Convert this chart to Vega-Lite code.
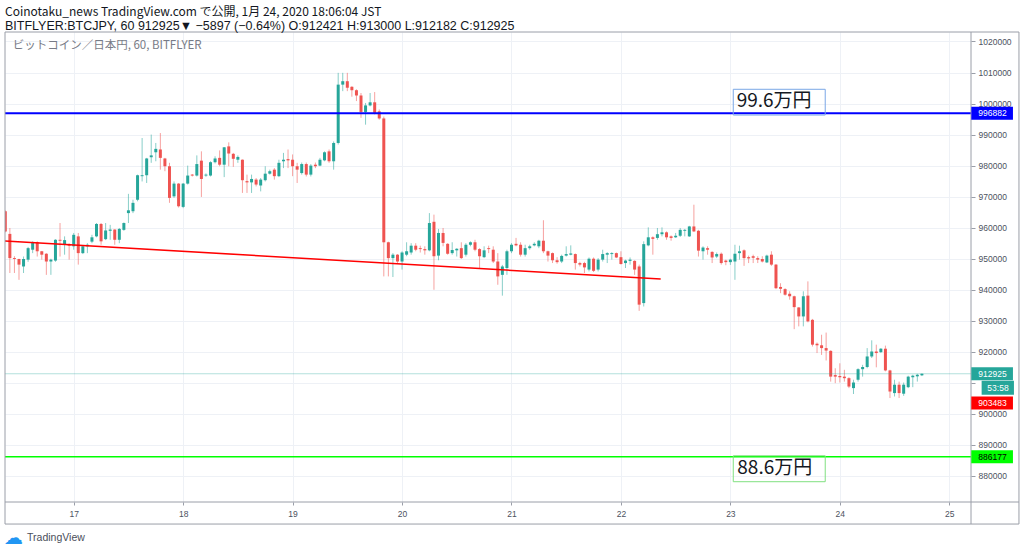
{
  "$schema": "https://vega.github.io/schema/vega-lite/v6.json",
  "width": 966,
  "height": 470,
  "autosize": {"type": "none"},
  "padding": {"left": 5, "top": 32, "right": 53, "bottom": 50},
  "background": "white",
  "title": {
    "text": "Coinotaku_news TradingView.com で公開, 1月 24, 2020 18:06:04 JST",
    "subtitle": "BITFLYER:BTCJPY, 60 912925▼ −5897 (−0.64%) O:912421 H:913000 L:912182 C:912925",
    "anchor": "start",
    "frame": "group",
    "font": "Noto Sans CJK JP",
    "fontSize": 12,
    "fontWeight": "normal",
    "color": "#131722",
    "subtitleFont": "Liberation Sans",
    "subtitleFontSize": 12.5,
    "subtitleColor": "#131722",
    "subtitlePadding": 1,
    "offset": -1.5
  },
  "config": {
    "view": {"stroke": null},
    "scale": {"continuousPadding": 0},
    "axis": {
      "labelFont": "Liberation Sans",
      "labelFontSize": 8.5,
      "labelColor": "#4c525e",
      "gridColor": "#eef1f6",
      "gridWidth": 1,
      "tickColor": "#9a9ea8",
      "domain": false,
      "labelFlush": false,
      "title": null
    }
  },
  "resolve": {"axis": {"x": "independent", "y": "independent"}},
  "datasets": {
    "candles": [
      {"t":"2020-01-16T09:00Z","o":965300,"h":965600,"l":958500,"c":958800},
      {"t":"2020-01-16T10:00Z","o":958000,"h":959900,"l":945400,"c":950200},
      {"t":"2020-01-16T11:00Z","o":950200,"h":950800,"l":945400,"c":949900},
      {"t":"2020-01-16T12:00Z","o":949900,"h":950000,"l":943200,"c":948100},
      {"t":"2020-01-16T13:00Z","o":947500,"h":950700,"l":945400,"c":949900},
      {"t":"2020-01-16T14:00Z","o":949700,"h":953800,"l":949000,"c":953400},
      {"t":"2020-01-16T15:00Z","o":952900,"h":955600,"l":951800,"c":955300},
      {"t":"2020-01-16T16:00Z","o":955300,"h":955600,"l":950700,"c":952400},
      {"t":"2020-01-16T17:00Z","o":952400,"h":952500,"l":949700,"c":951300},
      {"t":"2020-01-16T18:00Z","o":951600,"h":951800,"l":944800,"c":949100},
      {"t":"2020-01-16T19:00Z","o":949100,"h":950000,"l":944800,"c":949700},
      {"t":"2020-01-16T20:00Z","o":949400,"h":956300,"l":949000,"c":956100},
      {"t":"2020-01-16T21:00Z","o":956100,"h":961500,"l":950700,"c":955800},
      {"t":"2020-01-16T22:00Z","o":954500,"h":957200,"l":951300,"c":956000},
      {"t":"2020-01-16T23:00Z","o":954600,"h":955000,"l":949700,"c":954200},
      {"t":"2020-01-17T00:00Z","o":954000,"h":958300,"l":952900,"c":957700},
      {"t":"2020-01-17T01:00Z","o":957200,"h":958300,"l":948100,"c":951800},
      {"t":"2020-01-17T02:00Z","o":951800,"h":954300,"l":951500,"c":954000},
      {"t":"2020-01-17T03:00Z","o":954000,"h":955000,"l":951800,"c":954500},
      {"t":"2020-01-17T04:00Z","o":955500,"h":957700,"l":955000,"c":956900},
      {"t":"2020-01-17T05:00Z","o":957200,"h":961500,"l":956900,"c":961200},
      {"t":"2020-01-17T06:00Z","o":961200,"h":961500,"l":954500,"c":955600},
      {"t":"2020-01-17T07:00Z","o":956300,"h":961500,"l":956000,"c":959100},
      {"t":"2020-01-17T08:00Z","o":959000,"h":960900,"l":956100,"c":959400},
      {"t":"2020-01-17T09:00Z","o":959400,"h":959500,"l":954500,"c":956100},
      {"t":"2020-01-17T10:00Z","o":956100,"h":959900,"l":955000,"c":959600},
      {"t":"2020-01-17T11:00Z","o":959300,"h":961700,"l":959000,"c":961500},
      {"t":"2020-01-17T12:00Z","o":964700,"h":970900,"l":961500,"c":965600},
      {"t":"2020-01-17T13:00Z","o":965300,"h":969000,"l":964700,"c":968000},
      {"t":"2020-01-17T14:00Z","o":969000,"h":977100,"l":968500,"c":976900},
      {"t":"2020-01-17T15:00Z","o":976600,"h":988900,"l":974900,"c":976900},
      {"t":"2020-01-17T16:00Z","o":976900,"h":982500,"l":974400,"c":982300},
      {"t":"2020-01-17T17:00Z","o":982700,"h":990000,"l":980900,"c":983300},
      {"t":"2020-01-17T18:00Z","o":984300,"h":987300,"l":981400,"c":985400},
      {"t":"2020-01-17T19:00Z","o":985200,"h":990500,"l":978700,"c":982500},
      {"t":"2020-01-17T20:00Z","o":982300,"h":982500,"l":978200,"c":979800},
      {"t":"2020-01-17T21:00Z","o":979800,"h":980900,"l":968000,"c":969600},
      {"t":"2020-01-17T22:00Z","o":970100,"h":974900,"l":969600,"c":974200},
      {"t":"2020-01-17T23:00Z","o":974200,"h":974400,"l":966500,"c":966900},
      {"t":"2020-01-18T00:00Z","o":966700,"h":974400,"l":966300,"c":974200},
      {"t":"2020-01-18T01:00Z","o":974200,"h":980000,"l":973900,"c":976800},
      {"t":"2020-01-18T02:00Z","o":977100,"h":977300,"l":976500,"c":976800},
      {"t":"2020-01-18T03:00Z","o":976800,"h":983300,"l":976500,"c":980500},
      {"t":"2020-01-18T04:00Z","o":981600,"h":984600,"l":969900,"c":975700},
      {"t":"2020-01-18T05:00Z","o":976800,"h":977500,"l":976400,"c":977100},
      {"t":"2020-01-18T06:00Z","o":976800,"h":981400,"l":976500,"c":981100},
      {"t":"2020-01-18T07:00Z","o":981100,"h":983000,"l":980700,"c":982300},
      {"t":"2020-01-18T08:00Z","o":982500,"h":984900,"l":979800,"c":980300},
      {"t":"2020-01-18T09:00Z","o":980300,"h":986000,"l":976300,"c":985900},
      {"t":"2020-01-18T10:00Z","o":986200,"h":987500,"l":979800,"c":983900},
      {"t":"2020-01-18T11:00Z","o":983800,"h":984100,"l":979600,"c":982200},
      {"t":"2020-01-18T12:00Z","o":981900,"h":983300,"l":980900,"c":982800},
      {"t":"2020-01-18T13:00Z","o":981900,"h":982000,"l":971200,"c":975300},
      {"t":"2020-01-18T14:00Z","o":975000,"h":977100,"l":971200,"c":974600},
      {"t":"2020-01-18T15:00Z","o":974600,"h":977100,"l":971200,"c":975700},
      {"t":"2020-01-18T16:00Z","o":975500,"h":976000,"l":973300,"c":973900},
      {"t":"2020-01-18T17:00Z","o":973600,"h":976000,"l":971700,"c":975500},
      {"t":"2020-01-18T18:00Z","o":975300,"h":979800,"l":974900,"c":977400},
      {"t":"2020-01-18T19:00Z","o":977400,"h":978700,"l":977100,"c":978200},
      {"t":"2020-01-18T20:00Z","o":978700,"h":979200,"l":975500,"c":976600},
      {"t":"2020-01-18T21:00Z","o":976600,"h":981900,"l":976300,"c":980900},
      {"t":"2020-01-18T22:00Z","o":981400,"h":984100,"l":979200,"c":981900},
      {"t":"2020-01-18T23:00Z","o":982100,"h":985200,"l":979200,"c":981700},
      {"t":"2020-01-19T00:00Z","o":981900,"h":983600,"l":976600,"c":979800},
      {"t":"2020-01-19T01:00Z","o":979800,"h":980900,"l":974400,"c":978700},
      {"t":"2020-01-19T02:00Z","o":977600,"h":981000,"l":977100,"c":980500},
      {"t":"2020-01-19T03:00Z","o":980500,"h":981000,"l":976500,"c":977100},
      {"t":"2020-01-19T04:00Z","o":977100,"h":980500,"l":976500,"c":980000},
      {"t":"2020-01-19T05:00Z","o":980300,"h":981000,"l":979200,"c":979800},
      {"t":"2020-01-19T06:00Z","o":980000,"h":982500,"l":979800,"c":981900},
      {"t":"2020-01-19T07:00Z","o":981700,"h":984600,"l":981400,"c":984300},
      {"t":"2020-01-19T08:00Z","o":984600,"h":985200,"l":980900,"c":981400},
      {"t":"2020-01-19T09:00Z","o":981400,"h":987800,"l":978700,"c":987300},
      {"t":"2020-01-19T10:00Z","o":987300,"h":1009900,"l":986800,"c":1006100},
      {"t":"2020-01-19T11:00Z","o":1006100,"h":1009900,"l":1004000,"c":1007200},
      {"t":"2020-01-19T12:00Z","o":1007200,"h":1009900,"l":1004000,"c":1005100},
      {"t":"2020-01-19T13:00Z","o":1005400,"h":1005600,"l":1002200,"c":1004300},
      {"t":"2020-01-19T14:00Z","o":1004300,"h":1004600,"l":1000800,"c":1002600},
      {"t":"2020-01-19T15:00Z","o":1002600,"h":1003400,"l":995400,"c":997300},
      {"t":"2020-01-19T16:00Z","o":997300,"h":1000200,"l":993200,"c":999400},
      {"t":"2020-01-19T17:00Z","o":999400,"h":1003400,"l":999100,"c":1000400},
      {"t":"2020-01-19T18:00Z","o":1000400,"h":1003700,"l":996500,"c":997000},
      {"t":"2020-01-19T19:00Z","o":997500,"h":998100,"l":994800,"c":995200},
      {"t":"2020-01-19T20:00Z","o":995200,"h":995800,"l":944300,"c":955300},
      {"t":"2020-01-19T21:00Z","o":955300,"h":955500,"l":944300,"c":950200},
      {"t":"2020-01-19T22:00Z","o":950200,"h":951800,"l":944100,"c":951300},
      {"t":"2020-01-19T23:00Z","o":951300,"h":951500,"l":948600,"c":949100},
      {"t":"2020-01-20T00:00Z","o":949100,"h":952400,"l":946500,"c":952000},
      {"t":"2020-01-20T01:00Z","o":951300,"h":955300,"l":950800,"c":952400},
      {"t":"2020-01-20T02:00Z","o":952000,"h":955000,"l":951300,"c":954200},
      {"t":"2020-01-20T03:00Z","o":954200,"h":955000,"l":952400,"c":952900},
      {"t":"2020-01-20T04:00Z","o":953400,"h":954200,"l":952000,"c":953100},
      {"t":"2020-01-20T05:00Z","o":953100,"h":954000,"l":951300,"c":952700},
      {"t":"2020-01-20T06:00Z","o":952700,"h":964700,"l":952400,"c":961500},
      {"t":"2020-01-20T07:00Z","o":961900,"h":964200,"l":940000,"c":950800},
      {"t":"2020-01-20T08:00Z","o":951000,"h":959600,"l":949500,"c":958300},
      {"t":"2020-01-20T09:00Z","o":958300,"h":959900,"l":954000,"c":955100},
      {"t":"2020-01-20T10:00Z","o":954800,"h":955000,"l":951300,"c":951600},
      {"t":"2020-01-20T11:00Z","o":951800,"h":955300,"l":951300,"c":952800},
      {"t":"2020-01-20T12:00Z","o":952700,"h":953400,"l":950700,"c":953200},
      {"t":"2020-01-20T13:00Z","o":953400,"h":955300,"l":949900,"c":950200},
      {"t":"2020-01-20T14:00Z","o":951300,"h":955000,"l":950700,"c":954500},
      {"t":"2020-01-20T15:00Z","o":954500,"h":955600,"l":954000,"c":955300},
      {"t":"2020-01-20T16:00Z","o":955300,"h":956100,"l":952400,"c":952900},
      {"t":"2020-01-20T17:00Z","o":953100,"h":953400,"l":947000,"c":950800},
      {"t":"2020-01-20T18:00Z","o":950500,"h":954000,"l":950200,"c":952700},
      {"t":"2020-01-20T19:00Z","o":953400,"h":954200,"l":951800,"c":953100},
      {"t":"2020-01-20T20:00Z","o":952900,"h":954000,"l":948600,"c":949100},
      {"t":"2020-01-20T21:00Z","o":949100,"h":951800,"l":941600,"c":944300},
      {"t":"2020-01-20T22:00Z","o":944800,"h":948000,"l":938100,"c":947500},
      {"t":"2020-01-20T23:00Z","o":947000,"h":952900,"l":944800,"c":952400},
      {"t":"2020-01-21T00:00Z","o":952400,"h":955000,"l":951800,"c":954500},
      {"t":"2020-01-21T01:00Z","o":954800,"h":956700,"l":954000,"c":954300},
      {"t":"2020-01-21T02:00Z","o":954500,"h":955300,"l":950700,"c":951300},
      {"t":"2020-01-21T03:00Z","o":951300,"h":954500,"l":950700,"c":953400},
      {"t":"2020-01-21T04:00Z","o":953400,"h":954500,"l":952900,"c":954000},
      {"t":"2020-01-21T05:00Z","o":954300,"h":955300,"l":954000,"c":954800},
      {"t":"2020-01-21T06:00Z","o":954000,"h":956100,"l":953400,"c":955800},
      {"t":"2020-01-21T07:00Z","o":955800,"h":962400,"l":951800,"c":952400},
      {"t":"2020-01-21T08:00Z","o":952400,"h":952600,"l":949100,"c":951000},
      {"t":"2020-01-21T09:00Z","o":951800,"h":952000,"l":948600,"c":949500},
      {"t":"2020-01-21T10:00Z","o":949500,"h":950500,"l":948400,"c":948900},
      {"t":"2020-01-21T11:00Z","o":949100,"h":951300,"l":948600,"c":950900},
      {"t":"2020-01-21T12:00Z","o":951000,"h":954000,"l":950700,"c":951500},
      {"t":"2020-01-21T13:00Z","o":951300,"h":954300,"l":951100,"c":951700},
      {"t":"2020-01-21T14:00Z","o":951500,"h":951700,"l":946500,"c":948600},
      {"t":"2020-01-21T15:00Z","o":948600,"h":949000,"l":947500,"c":948100},
      {"t":"2020-01-21T16:00Z","o":948600,"h":949000,"l":945400,"c":947200},
      {"t":"2020-01-21T17:00Z","o":946500,"h":950400,"l":945900,"c":950000},
      {"t":"2020-01-21T18:00Z","o":950000,"h":950400,"l":945700,"c":946100},
      {"t":"2020-01-21T19:00Z","o":946500,"h":950200,"l":945900,"c":949700},
      {"t":"2020-01-21T20:00Z","o":949700,"h":952900,"l":949100,"c":951500},
      {"t":"2020-01-21T21:00Z","o":951300,"h":952100,"l":948600,"c":951800},
      {"t":"2020-01-21T22:00Z","o":951500,"h":952100,"l":949700,"c":951800},
      {"t":"2020-01-21T23:00Z","o":951800,"h":952000,"l":950200,"c":950400},
      {"t":"2020-01-22T00:00Z","o":950500,"h":952400,"l":948100,"c":948300},
      {"t":"2020-01-22T01:00Z","o":948600,"h":949700,"l":947000,"c":949400},
      {"t":"2020-01-22T02:00Z","o":949300,"h":950400,"l":948100,"c":949700},
      {"t":"2020-01-22T03:00Z","o":949300,"h":949500,"l":944800,"c":946500},
      {"t":"2020-01-22T04:00Z","o":947500,"h":948100,"l":933200,"c":935200},
      {"t":"2020-01-22T05:00Z","o":935700,"h":955600,"l":934600,"c":954700},
      {"t":"2020-01-22T06:00Z","o":954300,"h":960100,"l":954000,"c":956900},
      {"t":"2020-01-22T07:00Z","o":956900,"h":957200,"l":951300,"c":956400},
      {"t":"2020-01-22T08:00Z","o":956700,"h":959900,"l":956100,"c":957900},
      {"t":"2020-01-22T09:00Z","o":957900,"h":960100,"l":957200,"c":958500},
      {"t":"2020-01-22T10:00Z","o":958500,"h":958800,"l":956100,"c":956900},
      {"t":"2020-01-22T11:00Z","o":957200,"h":957500,"l":955800,"c":956700},
      {"t":"2020-01-22T12:00Z","o":956900,"h":958300,"l":956700,"c":957400},
      {"t":"2020-01-22T13:00Z","o":957400,"h":959900,"l":957000,"c":959300},
      {"t":"2020-01-22T14:00Z","o":959000,"h":959600,"l":957200,"c":959300},
      {"t":"2020-01-22T15:00Z","o":957200,"h":960600,"l":957000,"c":960400},
      {"t":"2020-01-22T16:00Z","o":960400,"h":967400,"l":958600,"c":958800},
      {"t":"2020-01-22T17:00Z","o":959000,"h":959300,"l":950700,"c":952600},
      {"t":"2020-01-22T18:00Z","o":952400,"h":954000,"l":949700,"c":953600},
      {"t":"2020-01-22T19:00Z","o":953400,"h":954000,"l":951300,"c":952900},
      {"t":"2020-01-22T20:00Z","o":952200,"h":952400,"l":948600,"c":950400},
      {"t":"2020-01-22T21:00Z","o":950700,"h":952000,"l":950200,"c":951500},
      {"t":"2020-01-22T22:00Z","o":951600,"h":952000,"l":948100,"c":948600},
      {"t":"2020-01-22T23:00Z","o":949400,"h":949700,"l":947900,"c":948900},
      {"t":"2020-01-23T00:00Z","o":948900,"h":950000,"l":948000,"c":949700},
      {"t":"2020-01-23T01:00Z","o":949100,"h":954500,"l":943200,"c":951600},
      {"t":"2020-01-23T02:00Z","o":951800,"h":954200,"l":949700,"c":952400},
      {"t":"2020-01-23T03:00Z","o":952700,"h":953000,"l":947700,"c":950200},
      {"t":"2020-01-23T04:00Z","o":950500,"h":951000,"l":948600,"c":950100},
      {"t":"2020-01-23T05:00Z","o":950800,"h":951300,"l":948600,"c":950300},
      {"t":"2020-01-23T06:00Z","o":950200,"h":950800,"l":948600,"c":949700},
      {"t":"2020-01-23T07:00Z","o":949900,"h":950800,"l":948800,"c":949100},
      {"t":"2020-01-23T08:00Z","o":948800,"h":951300,"l":948600,"c":951000},
      {"t":"2020-01-23T09:00Z","o":951300,"h":952400,"l":947700,"c":948100},
      {"t":"2020-01-23T10:00Z","o":948100,"h":948300,"l":940200,"c":940500},
      {"t":"2020-01-23T11:00Z","o":940900,"h":942100,"l":938900,"c":940300},
      {"t":"2020-01-23T12:00Z","o":940200,"h":940500,"l":938100,"c":938400},
      {"t":"2020-01-23T13:00Z","o":938700,"h":939500,"l":936800,"c":937900},
      {"t":"2020-01-23T14:00Z","o":937900,"h":938100,"l":927300,"c":934400},
      {"t":"2020-01-23T15:00Z","o":934300,"h":934400,"l":928200,"c":931400},
      {"t":"2020-01-23T16:00Z","o":931400,"h":939500,"l":928200,"c":937900},
      {"t":"2020-01-23T17:00Z","o":938100,"h":942700,"l":929500,"c":929800},
      {"t":"2020-01-23T18:00Z","o":930300,"h":930600,"l":921700,"c":922300},
      {"t":"2020-01-23T19:00Z","o":922600,"h":923000,"l":919600,"c":922100},
      {"t":"2020-01-23T20:00Z","o":922100,"h":925500,"l":919000,"c":921200},
      {"t":"2020-01-23T21:00Z","o":921200,"h":926200,"l":917200,"c":920400},
      {"t":"2020-01-23T22:00Z","o":920300,"h":920500,"l":910400,"c":912000},
      {"t":"2020-01-23T23:00Z","o":912500,"h":914700,"l":909900,"c":912000},
      {"t":"2020-01-24T00:00Z","o":912200,"h":916300,"l":910100,"c":911800},
      {"t":"2020-01-24T01:00Z","o":912000,"h":914200,"l":910400,"c":911500},
      {"t":"2020-01-24T02:00Z","o":911500,"h":911800,"l":908300,"c":908800},
      {"t":"2020-01-24T03:00Z","o":908300,"h":911000,"l":906400,"c":910100},
      {"t":"2020-01-24T04:00Z","o":911000,"h":914700,"l":910400,"c":914400},
      {"t":"2020-01-24T05:00Z","o":914400,"h":915800,"l":912000,"c":915100},
      {"t":"2020-01-24T06:00Z","o":915100,"h":921200,"l":914700,"c":918500},
      {"t":"2020-01-24T07:00Z","o":918500,"h":923700,"l":918000,"c":920100},
      {"t":"2020-01-24T08:00Z","o":920100,"h":922300,"l":915000,"c":919600},
      {"t":"2020-01-24T09:00Z","o":919900,"h":921200,"l":919600,"c":921000},
      {"t":"2020-01-24T10:00Z","o":921000,"h":922000,"l":913700,"c":914000},
      {"t":"2020-01-24T11:00Z","o":914000,"h":914200,"l":905100,"c":907200},
      {"t":"2020-01-24T12:00Z","o":906700,"h":911000,"l":905600,"c":909400},
      {"t":"2020-01-24T13:00Z","o":909400,"h":910400,"l":905100,"c":906700},
      {"t":"2020-01-24T14:00Z","o":906500,"h":910100,"l":905800,"c":909400},
      {"t":"2020-01-24T15:00Z","o":908600,"h":912300,"l":908300,"c":912000},
      {"t":"2020-01-24T16:00Z","o":911800,"h":912600,"l":908600,"c":912300},
      {"t":"2020-01-24T17:00Z","o":912100,"h":912900,"l":910400,"c":912600},
      {"t":"2020-01-24T18:00Z","o":912421,"h":913000,"l":912182,"c":912925}
    ],
    "trend": [
      {"t":"2020-01-16T08:56Z","p":955700},
      {"t":"2020-01-22T08:43Z","p":943460}
    ],
    "tags": [
      {"tag":"996882","p":996882},
      {"tag":"912925","p":912925},
      {"tag":"903483","p":903483},
      {"tag":"886177","p":886177}
    ]
  },
  "layer": [
    {
      "data": {"name": "candles"},
      "mark": {"type": "rule", "clip": true, "strokeWidth": 1, "opacity": 0.55},
      "encoding": {
        "x": {
          "field": "t",
          "type": "temporal",
          "scale": {
            "type": "utc",
            "padding": 0,
            "domain": [
              {"year": 2020, "month": 1, "date": 16, "hours": 8, "minutes": 56, "utc": true},
              {"year": 2020, "month": 1, "date": 25, "hours": 4, "minutes": 46, "utc": true}
            ]
          },
          "axis": {
            "orient": "bottom",
            "values": [
              {"year": 2020, "month": 1, "date": 17, "utc": true},
              {"year": 2020, "month": 1, "date": 18, "utc": true},
              {"year": 2020, "month": 1, "date": 19, "utc": true},
              {"year": 2020, "month": 1, "date": 20, "utc": true},
              {"year": 2020, "month": 1, "date": 21, "utc": true},
              {"year": 2020, "month": 1, "date": 22, "utc": true},
              {"year": 2020, "month": 1, "date": 23, "utc": true},
              {"year": 2020, "month": 1, "date": 24, "utc": true},
              {"year": 2020, "month": 1, "date": 25, "utc": true}
            ],
            "labelExpr": "utcFormat(datum.value, '%d')",
            "tickSize": 3,
            "labelPadding": 4,
            "grid": true
          }
        },
        "y": {
          "field": "l",
          "type": "quantitative",
          "scale": {"domain": [871600, 1023060], "nice": false, "zero": false, "padding": 0},
          "axis": {
            "orient": "right",
            "values": [880000, 890000, 900000, 910000, 920000, 930000, 940000, 950000, 960000, 970000, 980000, 990000, 1000000, 1010000, 1020000],
            "labelExpr": "datum.value == 910000 ? '' : format(datum.value, 'd')",
            "tickSize": 4,
            "labelPadding": 3,
            "grid": true
          }
        },
        "y2": {"field": "h"},
        "color": {"condition": {"test": "datum.o > datum.c", "value": "#ef5350"}, "value": "#26a69a"}
      }
    },
    {
      "data": {"name": "candles"},
      "mark": {"type": "bar", "clip": true, "size": 3},
      "encoding": {
        "x": {"field": "t", "type": "temporal", "axis": null},
        "y": {"field": "o", "type": "quantitative", "axis": null},
        "y2": {"field": "c"},
        "color": {"condition": {"test": "datum.o > datum.c", "value": "#ef5350"}, "value": "#26a69a"}
      }
    },
    {
      "data": {"values": [{}]},
      "mark": {"type": "rule", "color": "#26a69a", "opacity": 0.35, "strokeWidth": 1},
      "encoding": {"y": {"datum": 912925, "type": "quantitative", "axis": null}}
    },
    {
      "data": {"values": [{}]},
      "mark": {"type": "rule", "color": "#0000ff", "strokeWidth": 2},
      "encoding": {"y": {"datum": 996882, "type": "quantitative", "axis": null}}
    },
    {
      "data": {"values": [{}]},
      "mark": {"type": "rule", "color": "#00ff00", "strokeWidth": 1.5},
      "encoding": {"y": {"datum": 886177, "type": "quantitative", "axis": null}}
    },
    {
      "data": {"name": "trend"},
      "mark": {"type": "line", "clip": true, "color": "#ff0000", "strokeWidth": 1.5},
      "encoding": {
        "x": {"field": "t", "type": "temporal", "axis": null},
        "y": {"field": "p", "type": "quantitative", "axis": null}
      }
    },
    {
      "data": {"values": [{}]},
      "mark": {"type": "rect", "fillOpacity": 0, "stroke": "#7aa7e6", "strokeWidth": 1},
      "encoding": {
        "x": {"datum": {"year": 2020, "month": 1, "date": 23, "hours": 0, "minutes": 38, "utc": true}, "type": "temporal", "axis": null},
        "x2": {"datum": {"year": 2020, "month": 1, "date": 23, "hours": 20, "minutes": 48, "utc": true}},
        "y": {"datum": 1004600, "type": "quantitative", "axis": null},
        "y2": {"datum": 996300}
      }
    },
    {
      "data": {"values": [{}]},
      "mark": {"type": "text", "text": "99.6万円", "align": "left", "baseline": "middle", "font": "Noto Sans CJK JP", "fontSize": 19, "color": "#131722"},
      "encoding": {
        "x": {"datum": {"year": 2020, "month": 1, "date": 23, "hours": 1, "minutes": 23, "utc": true}, "type": "temporal", "axis": null},
        "y": {"datum": 1000700, "type": "quantitative", "axis": null}
      }
    },
    {
      "data": {"values": [{}]},
      "mark": {"type": "rect", "fillOpacity": 0, "stroke": "#80e080", "strokeWidth": 1},
      "encoding": {
        "x": {"datum": {"year": 2020, "month": 1, "date": 23, "hours": 0, "minutes": 38, "utc": true}, "type": "temporal", "axis": null},
        "x2": {"datum": {"year": 2020, "month": 1, "date": 23, "hours": 20, "minutes": 48, "utc": true}},
        "y": {"datum": 886500, "type": "quantitative", "axis": null},
        "y2": {"datum": 878140}
      }
    },
    {
      "data": {"values": [{}]},
      "mark": {"type": "text", "text": "88.6万円", "align": "left", "baseline": "middle", "font": "Noto Sans CJK JP", "fontSize": 19, "color": "#131722"},
      "encoding": {
        "x": {"datum": {"year": 2020, "month": 1, "date": 23, "hours": 1, "minutes": 31, "utc": true}, "type": "temporal", "axis": null},
        "y": {"datum": 882600, "type": "quantitative", "axis": null}
      }
    },
    {
      "data": {"values": [{}]},
      "mark": {"type": "text", "text": "ビットコイン／日本円, 60, BITFLYER", "align": "left", "baseline": "middle", "font": "Noto Sans CJK JP", "fontSize": 11.5, "color": "#787b86"},
      "encoding": {
        "x": {"datum": {"year": 2020, "month": 1, "date": 16, "hours": 10, "minutes": 37, "utc": true}, "type": "temporal", "axis": null},
        "y": {"datum": 1018390, "type": "quantitative", "axis": null}
      }
    },
    {
      "data": {"values": [{}]},
      "mark": {"type": "rect", "fillOpacity": 0, "stroke": "#9a9ea8", "strokeWidth": 1},
      "encoding": {
        "x": {"datum": {"year": 2020, "month": 1, "date": 16, "hours": 8, "minutes": 56, "utc": true}, "type": "temporal", "axis": null},
        "x2": {"datum": {"year": 2020, "month": 1, "date": 25, "hours": 15, "minutes": 17, "utc": true}},
        "y": {"datum": 1023060, "type": "quantitative", "axis": null},
        "y2": {"datum": 864500}
      }
    },
    {
      "data": {"values": [{}]},
      "mark": {"type": "rule", "color": "#9a9ea8", "strokeWidth": 1},
      "encoding": {
        "x": {"datum": {"year": 2020, "month": 1, "date": 16, "hours": 8, "minutes": 56, "utc": true}, "type": "temporal", "axis": null},
        "x2": {"datum": {"year": 2020, "month": 1, "date": 25, "hours": 15, "minutes": 17, "utc": true}},
        "y": {"datum": 871600, "type": "quantitative", "axis": null}
      }
    },
    {
      "data": {"values": [{}]},
      "mark": {"type": "rule", "color": "#9a9ea8", "strokeWidth": 1},
      "encoding": {
        "x": {"datum": {"year": 2020, "month": 1, "date": 25, "hours": 4, "minutes": 46, "utc": true}, "type": "temporal", "axis": null},
        "y": {"datum": 1023060, "type": "quantitative", "axis": null},
        "y2": {"datum": 864500}
      }
    },
    {
      "data": {"name": "tags"},
      "mark": {"type": "bar", "size": 13},
      "encoding": {
        "x": {"datum": {"year": 2020, "month": 1, "date": 25, "hours": 4, "minutes": 50, "utc": true}, "type": "temporal", "axis": null},
        "x2": {"datum": {"year": 2020, "month": 1, "date": 25, "hours": 13, "minutes": 58, "utc": true}},
        "y": {"field": "p", "type": "quantitative", "axis": null},
        "color": {
          "field": "tag",
          "type": "nominal",
          "scale": {"domain": ["996882", "912925", "903483", "886177"], "range": ["#0000ff", "#26a69a", "#ff0000", "#00ff00"]},
          "legend": null
        }
      }
    },
    {
      "data": {"name": "tags"},
      "mark": {"type": "text", "align": "center", "baseline": "middle", "font": "Liberation Sans", "fontSize": 8.5},
      "encoding": {
        "x": {"datum": {"year": 2020, "month": 1, "date": 25, "hours": 9, "minutes": 29, "utc": true}, "type": "temporal", "axis": null},
        "y": {"field": "p", "type": "quantitative", "axis": null},
        "text": {"field": "tag"},
        "color": {"condition": {"test": "datum.tag === '886177'", "value": "#000000"}, "value": "#ffffff"}
      }
    },
    {
      "data": {"values": [{"tag": "53:58"}]},
      "mark": {"type": "bar", "size": 14, "color": "#26a69a"},
      "encoding": {
        "x": {"datum": {"year": 2020, "month": 1, "date": 25, "hours": 7, "minutes": 6, "utc": true}, "type": "temporal", "axis": null},
        "x2": {"datum": {"year": 2020, "month": 1, "date": 25, "hours": 14, "minutes": 11, "utc": true}},
        "y": {"datum": 908400, "type": "quantitative", "axis": null}
      }
    },
    {
      "data": {"values": [{"tag": "53:58"}]},
      "mark": {"type": "text", "align": "center", "baseline": "middle", "font": "Liberation Sans", "fontSize": 8.5, "color": "#ffffff"},
      "encoding": {
        "x": {"datum": {"year": 2020, "month": 1, "date": 25, "hours": 10, "minutes": 41, "utc": true}, "type": "temporal", "axis": null},
        "y": {"datum": 908400, "type": "quantitative", "axis": null},
        "text": {"field": "tag"}
      }
    },
    {
      "data": {"values": [{}]},
      "mark": {"type": "text", "text": "☁", "align": "center", "baseline": "middle", "font": "DejaVu Sans", "fontSize": 19, "color": "#2196f3"},
      "encoding": {
        "x": {"datum": {"year": 2020, "month": 1, "date": 16, "hours": 10, "minutes": 48, "utc": true}, "type": "temporal", "axis": null},
        "y": {"datum": 860000, "type": "quantitative", "axis": null}
      }
    },
    {
      "data": {"values": [{}]},
      "mark": {"type": "text", "text": "TradingView", "align": "left", "baseline": "middle", "font": "Liberation Sans", "fontSize": 10.5, "color": "#4a4e5a"},
      "encoding": {
        "x": {"datum": {"year": 2020, "month": 1, "date": 16, "hours": 13, "minutes": 46, "utc": true}, "type": "temporal", "axis": null},
        "y": {"datum": 860000, "type": "quantitative", "axis": null}
      }
    }
  ]
}
